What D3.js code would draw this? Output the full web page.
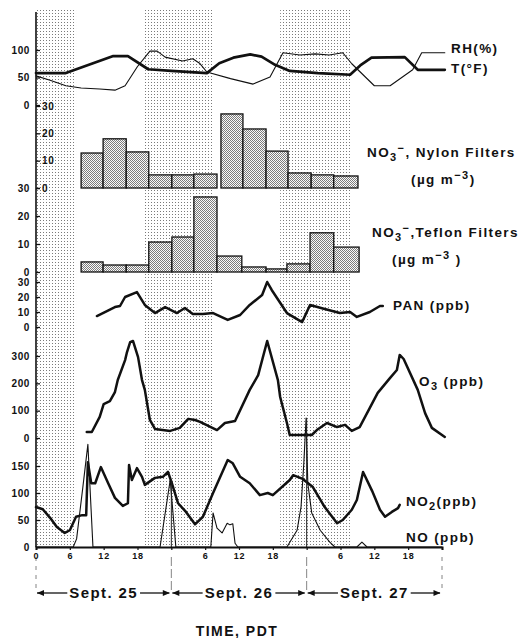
<!DOCTYPE html>
<html><head><meta charset="utf-8">
<script src="https://cdn.jsdelivr.net/npm/d3@7"></script>
<style>
html,body{margin:0;padding:0;background:#fff;}
svg{display:block;font-family:"Liberation Sans",Arial,Helvetica,sans-serif;}
</style></head><body>
<svg id="chart" width="526" height="638"></svg>
<script>
// ---- Data (hour since 00:00 PDT Sept. 25, value) ----
const nightPeriods = [[0, 7.1], [19.1, 31.4], [43.3, 56]];

const tempF = [[0,58],[5.3,58],[13.7,89],[16.3,89],[19.9,65],[24,62],[30.3,58],[32.5,76],[35,86],[38,92],[40,88],[42.4,73],[45,62],[50,58],[55.7,55],[57.5,72],[59.5,86],[65.4,87],[67.7,64],[72.5,64]];
const relHum = [[0,53],[2.5,45],[5.3,35],[8,31],[11.3,29],[14,27],[15.8,35],[18,70],[20.2,98],[21.5,98],[22.9,87],[26,80],[27.8,84],[29,76],[30.3,60],[34.5,48],[38.5,38],[41.5,51],[43.8,95],[46.8,91],[49.5,93],[52,91],[54.4,95],[56,75],[60,35],[62.8,35],[66.8,64],[68.4,95],[72.5,95]];

const nylonStart = [8, 11.9, 16, 20, 24.1, 28, 32.8, 36.7, 40.8, 44.7, 48.8, 52.8];
const nylonEnd   = [11.9, 16, 20, 24.1, 28, 32.1, 36.7, 40.8, 44.7, 48.8, 52.8, 57.1];
const nylonNO3   = [12.8, 18, 13.2, 4.8, 4.8, 5.1, 27.1, 21.6, 13.5, 5.5, 4.8, 4.4];

const teflonStart = [8, 11.9, 16, 20, 24.1, 28, 32.1, 36.5, 40.8, 44.5, 48.6, 52.8];
const teflonEnd   = [11.9, 16, 20, 24.1, 28, 32.1, 36.5, 40.8, 44.5, 48.6, 52.8, 57.3];
const teflonNO3   = [3.6, 2.5, 2.5, 10.7, 12.5, 26.8, 5.7, 1.8, 1.1, 2.9, 14, 8.9];

const pan = [[10.8,7.3],[14,13.3],[14.9,14],[15.8,20],[17.9,23.3],[19.3,14.7],[21.1,9.3],[22.9,13.3],[25,9.3],[26.4,12.7],[27.8,8.7],[29.6,8.7],[31.4,9.3],[34,4.7],[36.2,8],[37.9,14.7],[40.1,21.3],[41,30],[41.8,24.7],[44.5,9.3],[47.2,3.3],[48.6,14.7],[51.2,12],[53.9,9.3],[55.7,10],[56.9,6.7],[59.2,10],[61,14],[61.5,14]];

const ozone = [[9,22],[9.9,22],[11.3,77],[12,124],[13.1,135],[14,168],[14.5,212],[15.8,285],[16.1,311],[16.7,351],[17.2,355],[18.1,296],[18.8,212],[19.3,176],[20.2,66],[21.1,33],[23.8,26],[25.5,37],[27,70],[28.2,66],[29.1,59],[32.1,29],[33.5,55],[35.3,62],[37.9,176],[39.4,230],[41,355],[42.9,212],[43.3,150],[44.5,55],[45,11],[48.9,11],[49.8,29],[51.6,55],[53.4,40],[54.8,48],[56,26],[57.4,40],[59.2,110],[60.6,165],[62.8,220],[64,249],[64.5,304],[65.2,289],[67.7,176],[69,91],[70.2,37],[72.5,4]];

const no2 = [[0,74],[1.2,70],[2.5,54],[3.7,37],[5.1,26],[6,31],[7.1,56],[8.2,59],[8.9,59],[9.2,157],[9.8,118],[10.5,118],[11.5,148],[12.8,118],[14,91],[15.4,76],[16.3,81],[16.5,152],[17,124],[17.9,146],[18.8,130],[19.3,115],[21.1,128],[22.5,130],[23.4,139],[24.1,118],[25.2,81],[26.6,65],[28.2,42],[29.6,56],[31.4,100],[34,161],[34.9,155],[36.2,130],[37.9,118],[39.7,96],[41.1,100],[42,96],[45,124],[45.6,133],[47.3,126],[49.1,111],[51.2,74],[53.4,44],[54.4,50],[56,69],[56.9,87],[58,139],[59.6,104],[61,69],[61.9,56],[63.1,65],[64.2,72],[64.5,78]];

const no = [[0,0],[6.6,0],[7.2,15],[8.3,110],[9.2,190],[10.1,0],[22,0],[23.8,124],[24.8,0],[31,0],[31.4,63],[32.1,35],[33,26],[33.9,44],[34.4,41],[34.9,43],[35.3,7],[35.8,0],[44.5,0],[46.3,31],[47,74],[47.5,156],[47.9,239],[48.2,118],[48.9,63],[50.4,31],[52.1,9],[53,0],[56.9,0],[57.8,9],[58.7,0],[72,0]];

const hourTicks = [0, 6, 12, 18, 24, 30, 36, 42, 48, 54, 60, 66, 72];
const dayBoundaries = [24, 48];
const dayLabels = ["Sept. 25", "Sept. 26", "Sept. 27"];

// ---- Scales ----
const svg = d3.select("#chart");
const x = d3.scaleLinear().domain([0, 72]).range([36, 442]);
const yRH   = d3.scaleLinear().domain([0, 100]).range([105, 50]);
const yNy   = d3.scaleLinear().domain([0, 30]).range([188, 106]);
const yTe   = d3.scaleLinear().domain([0, 30]).range([272, 188]);
const yPAN  = d3.scaleLinear().domain([0, 30]).range([327, 282]);
const yO3   = d3.scaleLinear().domain([0, 300]).range([438, 356]);
const yNO2  = d3.scaleLinear().domain([0, 150]).range([547, 466]);
const topY = 9, baseY = yNO2(0);

svg.append("rect").attr("width", 526).attr("height", 638).attr("fill", "#fff");

// ---- Fill patterns ----
const defs = svg.append("defs");
const stip = defs.append("pattern").attr("id", "night").attr("patternUnits", "userSpaceOnUse")
  .attr("width", 3).attr("height", 3);
stip.append("rect").attr("x", 1).attr("y", 1).attr("width", 1).attr("height", 1).attr("fill", "#7a7a7a");
const hatch = defs.append("pattern").attr("id", "barfill").attr("patternUnits", "userSpaceOnUse")
  .attr("width", 2).attr("height", 2);
hatch.append("rect").attr("width", 2).attr("height", 2).attr("fill", "#fafafa");
hatch.append("rect").attr("x", 0).attr("y", 0).attr("width", 1).attr("height", 1).attr("fill", "#7c7c7c");
hatch.append("rect").attr("x", 1).attr("y", 1).attr("width", 1).attr("height", 1).attr("fill", "#7c7c7c");

// ---- Night shading ----
svg.append("g").selectAll("rect").data(nightPeriods).join("rect")
  .attr("x", d => x(d[0])).attr("width", d => x(d[1]) - x(d[0]))
  .attr("y", topY).attr("height", baseY - topY)
  .attr("fill", "url(#night)");

// ---- Bars ----
function bars(starts, ends, vals, y) {
  svg.append("g").selectAll("rect").data(vals).join("rect")
    .attr("x", (d, i) => x(starts[i])).attr("width", (d, i) => x(ends[i]) - x(starts[i]))
    .attr("y", d => y(d)).attr("height", d => y(0) - y(d))
    .attr("fill", "url(#barfill)").attr("stroke", "#111").attr("stroke-width", 1.3);
}
bars(nylonStart, nylonEnd, nylonNO3, yNy);
bars(teflonStart, teflonEnd, teflonNO3, yTe);

// ---- Lines ----
function trace(data, y, w) {
  svg.append("path").datum(data)
    .attr("d", d3.line().x(d => x(d[0])).y(d => y(d[1])))
    .attr("fill", "none").attr("stroke", "#111").attr("stroke-width", w)
    .attr("stroke-linejoin", "round").attr("stroke-linecap", "round");
}
trace(relHum, yRH, 1.1);
trace(tempF, yRH, 2.7);
trace(pan, yPAN, 2.5);
trace(ozone, yO3, 2.5);
trace(no2, yNO2, 2.5);
trace(no, yNO2, 1.1);

// ---- Day boundary lines (from NO peak down to the date row) ----
dayBoundaries.forEach(h => {
  const near = no.filter(d => Math.abs(d[0] - h) < 1.2);
  const peak = d3.max(near, d => d[1]);
  svg.append("line").attr("x1", x(h)).attr("x2", x(h))
    .attr("y1", yNO2(peak)).attr("y2", baseY)
    .attr("stroke", "#222").attr("stroke-width", 1);
});
[0, 24, 48, 72].forEach(h => {
  svg.append("line").attr("x1", x(h)).attr("x2", x(h))
    .attr("y1", baseY + 10).attr("y2", 590)
    .attr("stroke", "#777").attr("stroke-width", 0.9)
    .attr("stroke-dasharray", h === 0 || h === 72 ? "4,5" : "9,3");
});

// ---- Left axes ----
const tickFont = g => g.selectAll("text")
  .attr("font-size", 10).attr("font-weight", "bold").attr("letter-spacing", 0.6).attr("fill", "#111");
function leftAxis(y, vals) {
  const g = svg.append("g").attr("transform", `translate(${x(0)},0)`)
    .call(d3.axisLeft(y).tickValues(vals).tickSize(-4).tickPadding(6).tickFormat(d3.format("d")));
  g.select(".domain").remove();
  g.selectAll("line").attr("stroke", "#111").attr("stroke-width", 1.3);
  tickFont(g);
}
leftAxis(yRH, [0, 50, 100]);
leftAxis(yTe, [0, 10, 20, 30]);
leftAxis(yPAN, [0, 10, 20, 30]);
leftAxis(yO3, [0, 100, 200, 300]);
leftAxis(yNO2, [0, 50, 100, 150]);
const gNy = svg.append("g").attr("transform", `translate(${x(0)},0)`)
  .call(d3.axisRight(yNy).tickValues([0, 10, 20, 30]).tickSize(4).tickPadding(2).tickFormat(d3.format("d")));
gNy.select(".domain").remove();
gNy.selectAll("line").attr("stroke", "#111").attr("stroke-width", 1.3);
tickFont(gNy);

svg.append("line").attr("x1", x(0)).attr("x2", x(0)).attr("y1", 12).attr("y2", baseY)
  .attr("stroke", "#111").attr("stroke-width", 1.6);

// ---- Bottom time axis ----
const gx = svg.append("g").attr("transform", `translate(0,${baseY})`)
  .call(d3.axisBottom(x).tickValues(hourTicks).tickSize(3).tickPadding(3)
    .tickFormat(h => (h > 0 && h % 24 === 0) ? "" : String(h % 24)));
gx.select(".domain").attr("stroke", "#111").attr("stroke-width", 2);
gx.selectAll("line").attr("stroke", "#111").attr("stroke-width", 1.2);
gx.selectAll("text").attr("font-size", 9).attr("font-weight", "bold").attr("letter-spacing", 0.8).attr("fill", "#111");

// ---- Day labels with arrows ----
const dateY = 593;
const arrowHead = (tipX, dir) => {
  svg.append("path")
    .attr("d", `M${tipX},${dateY} l${-dir * 7},-3 l0,6 z`).attr("fill", "#111");
};
dayLabels.forEach((lab, i) => {
  const cx = x(i * 24 + 12), x0 = x(i * 24), x1 = x(i * 24 + 24);
  const t = svg.append("text").attr("x", cx).attr("y", dateY + 5).attr("text-anchor", "middle")
    .attr("font-size", 15).attr("font-weight", "bold").attr("letter-spacing", 1.4).attr("fill", "#111")
    .text(lab);
  const bb = t.node().getBBox();
  svg.append("line").attr("x1", x0 + 1).attr("x2", bb.x - 2).attr("y1", dateY).attr("y2", dateY)
    .attr("stroke", "#111").attr("stroke-width", 1.3);
  svg.append("line").attr("x1", bb.x + bb.width + 2).attr("x2", x1 - 2).attr("y1", dateY).attr("y2", dateY)
    .attr("stroke", "#111").attr("stroke-width", 1.3);
  arrowHead(x0 + 1, -1);
  arrowHead(x1 - 1.5, 1);
});

svg.append("text").attr("x", 237).attr("y", 636).attr("text-anchor", "middle")
  .attr("font-size", 14).attr("font-weight", "bold").attr("letter-spacing", 1.5).attr("fill", "#111")
  .text("TIME, PDT");

// ---- Series labels ----
function label(px, py, parts) {
  const t = svg.append("text").attr("x", px).attr("y", py)
    .attr("font-size", 13.5).attr("font-weight", "bold").attr("letter-spacing", 1.4).attr("fill", "#111");
  parts.forEach(p => {
    const s = t.append("tspan").text(p.t);
    if (p.dy) s.attr("dy", p.dy);
    if (p.fs) s.attr("font-size", p.fs);
  });
}
label(451, 53, [{t: "RH(%)"}]);
label(451, 73, [{t: "T(°F)"}]);
label(367, 157, [{t: "NO"}, {t: "3", dy: 4, fs: 11}, {t: "−", dy: -9, fs: 11}, {t: ", Nylon Filters", dy: 5}]);
label(411, 184, [{t: "(µg m"}, {t: "−3", dy: -5, fs: 11}, {t: ")", dy: 5}]);
label(372, 237, [{t: "NO"}, {t: "3", dy: 4, fs: 11}, {t: "−", dy: -9, fs: 11}, {t: ",Teflon Filters", dy: 5}]);
label(392, 264, [{t: "(µg m"}, {t: "−3", dy: -5, fs: 11}, {t: " )", dy: 5}]);
label(393, 310, [{t: "PAN (ppb)"}]);
label(419, 386, [{t: "O"}, {t: "3", dy: 4, fs: 11}, {t: " (ppb)", dy: -4}]);
label(406, 506, [{t: "NO"}, {t: "2", dy: 4, fs: 11}, {t: "(ppb)", dy: -4}]);
label(406, 542, [{t: "NO (ppb)"}]);
</script>
</body></html>
